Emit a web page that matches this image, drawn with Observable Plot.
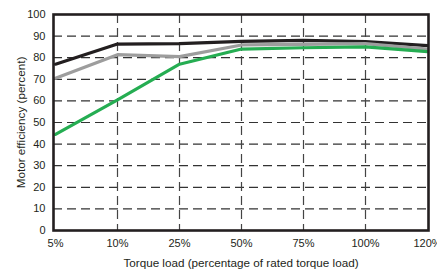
<!DOCTYPE html>
<html><head><meta charset="utf-8">
<script src="https://cdn.jsdelivr.net/npm/d3@7"></script>
<script src="https://cdn.jsdelivr.net/npm/@observablehq/plot@0.6"></script>
<style>body{margin:0;background:#fff}</style>
</head><body><div id="chart"></div>
<script>
const loads = ["5%", "10%", "25%", "50%", "75%", "100%", "120%"];
const blackSeries = [77, 86.3, 86.5, 87.6, 88, 87.5, 85.6];
const graySeries = [70.5, 81.4, 80.5, 85.9, 86.2, 86.5, 84];
const greenSeries = [44.5, 60.5, 77, 84, 84.6, 85, 82.8];
const yTicks = [0, 10, 20, 30, 40, 50, 60, 70, 80, 90, 100];

const series = [
  {name: "black", color: "#231f20", values: blackSeries},
  {name: "gray", color: "#9d9d9d", values: graySeries},
  {name: "green", color: "#25ad52", values: greenSeries}
];
const rows = s => s.values.map((v, i) => ({series: s.name, load: loads[i], value: v}));

const chart = Plot.plot({
  width: 437, height: 273,
  marginLeft: 53, marginRight: 9, marginTop: 14, marginBottom: 43,
  style: {fontFamily: "Liberation Sans, Arial, sans-serif", fontSize: "11px", color: "#231f20", background: "#fff"},
  x: {type: "point", domain: loads, padding: 0},
  y: {domain: [0, 100]},
  marks: [
    Plot.ruleY(yTicks.slice(1, -1), {stroke: "#333", strokeWidth: 1.2, strokeDasharray: "9,5"}),
    Plot.ruleX(loads.slice(1, -1), {stroke: "#444", strokeWidth: 1.2, strokeDasharray: "9,5"}),
    ...series.map(s => Plot.line(rows(s), {x: "load", y: "value", stroke: s.color, strokeWidth: 3.2, strokeLinejoin: "miter"})),
    Plot.frame({stroke: "#231f20", strokeWidth: 2.6}),
    Plot.axisY(yTicks, {tickSize: 0, tickPadding: 8, fontSize: 11, label: null}),
    Plot.axisY([], {tickSize: 0, fontSize: 11.7, label: "Motor efficiency (percent)", labelAnchor: "center", labelArrow: "none", labelOffset: 37}),
    Plot.axisX(loads, {tickSize: 0, tickPadding: 9, fontSize: 11, label: null}),
    Plot.axisX([], {tickSize: 0, fontSize: 11.7, label: "Torque load (percentage of rated torque load)", labelAnchor: "center", labelArrow: "none", labelOffset: 36})
  ]
});
document.getElementById("chart").appendChild(chart);
</script>
</body></html>
